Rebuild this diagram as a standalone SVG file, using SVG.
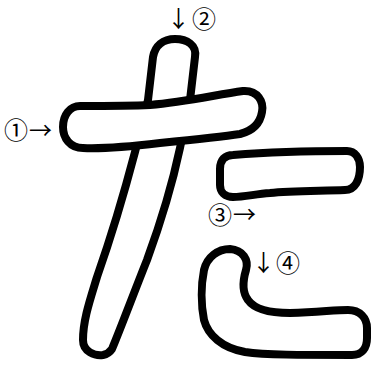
<svg xmlns="http://www.w3.org/2000/svg" width="377" height="365" viewBox="0 0 377 365">
<style>
.s{fill:#fff;stroke:#000;stroke-width:8;stroke-linejoin:round}
.t{font-family:"Noto Sans CJK JP",sans-serif;font-size:23px;fill:#000}
.c{font-size:24px}
</style>
<rect width="377" height="365" fill="#fff"/>
<g id="stroke2"><path class="s" d="M112,349 C120,330 135,290 147,260 C158,230 170,195 180,148 L190,100 L195,57 C197,45 187,39 175,39 C163,39 155,46 153,57 L148,100 L135,152 C125,190 110,240 97,277 C90,300 83,320 83,340 C83,352 95,356 103,355 C108,354 110,352 112,349 Z"/></g>
<g id="stroke1"><path class="s" d="M80,106 C110,106 130,106 150,105 C185,102 215,95 243,91 C258,90 264,102 262,112 C260,124 252,131 240,134 C220,137 190,140 160,143 C135,146 105,149 83,148 C70,148 63,138 63,127 C63,115 70,106 80,106 Z"/></g>
<g id="stroke3"><path class="s" d="M233,155 C270,152 310,151 347,151 C355,151 360,158 360,167 C360,180 355,190 345,190 C320,191 290,191 270,193 C255,194 245,197 233,197 C225,197 220,192 220,185 L220,169 C220,160 225,155 233,155 Z"/></g>
<g id="stroke4"><path class="s" d="M348,310 C335,310 320,312 290,313 C270,313 255,310 248,300 C242,292 243,280 246,270 C249,260 243,250 230,249 C218,249 207,257 204,270 C201,285 201,305 204,320 C208,335 222,348 245,352 C265,355 300,355 352,355 C362,355 367,348 367,338 L367,328 C367,318 360,310 348,310 Z"/></g>
<g id="labels">
<text class="t" x="4" y="139"><tspan class="c">①</tspan><tspan x="29">→</tspan></text>
<text class="t" x="167" y="27">↓<tspan class="c" x="192" y="28">②</tspan></text>
<text class="t" x="208" y="224"><tspan class="c">③</tspan><tspan x="233" y="223">→</tspan></text>
<text class="t" x="252" y="271">↓<tspan class="c" x="276" y="272">④</tspan></text>
</g>
</svg>
